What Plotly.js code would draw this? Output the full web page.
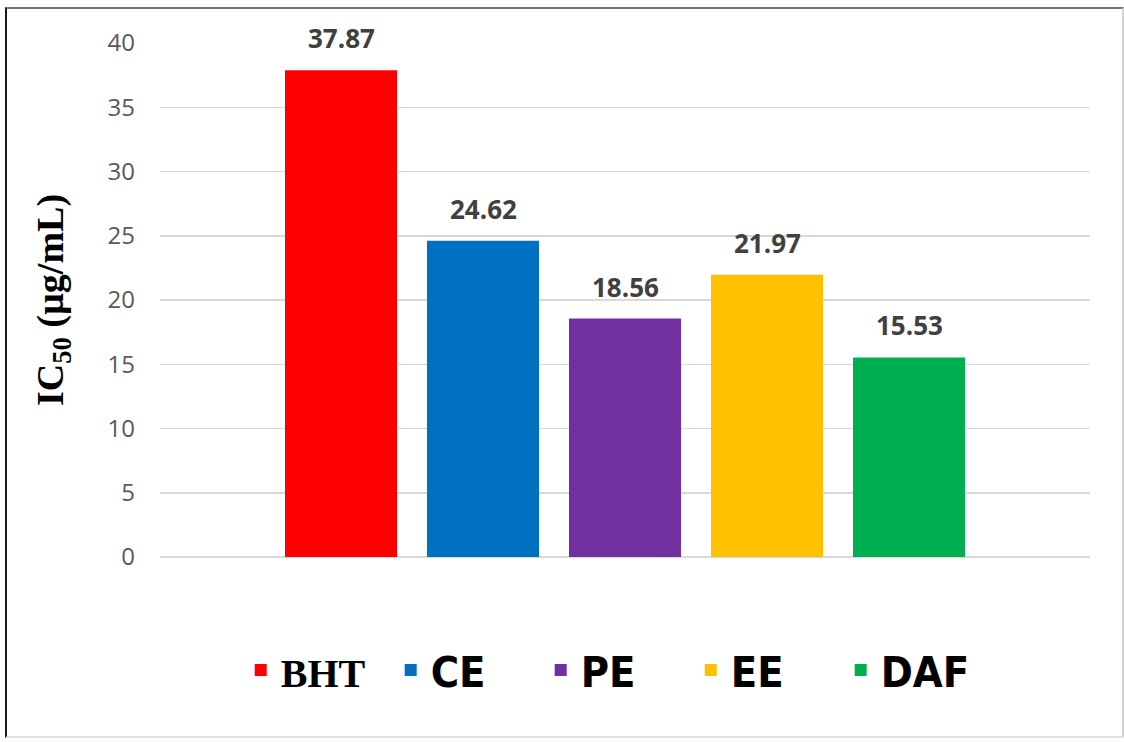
<!DOCTYPE html>
<html>
<head>
<meta charset="utf-8">
<script src="https://cdn.plot.ly/plotly-3.0.1.min.js"></script>
<style>
  html, body { margin: 0; padding: 0; background: #ffffff; }
  #chart { position: absolute; left: 0; top: 0; width: 1124px; height: 742px; }
  #frame { position: absolute; left: 5px; top: 7px; width: 1115px; height: 727px;
           border-top: 2px solid #767676; border-left: 2px solid #1a1a1a;
           border-right: 2px solid #d4d4d4; border-bottom: 2px solid #e2e2e2;
           pointer-events: none; }
</style>
</head>
<body>
<div id="chart"></div>
<div id="frame"></div>
<script>
// ---- data ----
const categories = ["BHT", "CE", "PE", "EE", "DAF"];
const values = [37.87, 24.62, 18.56, 21.97, 15.53];
const valueLabels = ["37.87", "24.62", "18.56", "21.97", "15.53"];
const colors = ["#FF0000", "#0070C0", "#7030A0", "#FFC000", "#00B050"];
const legendNames = [
  "<span style='font-family:\"Liberation Serif\", serif; font-size:40px'>BHT</span>",
  "CE", "PE", "EE", "DAF"
];
const yTicks = [0, 5, 10, 15, 20, 25, 30, 35, 40];

const traces = categories.map((c, i) => ({
  type: "bar",
  x: [c],
  y: [values[i]],
  name: legendNames[i],
  marker: { color: colors[i] },
  hoverinfo: "skip"
}));

const annotations = categories.map((c, i) => ({
  x: c, y: values[i], xref: "x", yref: "y",
  text: valueLabels[i], showarrow: false,
  yanchor: "bottom", yshift: 12,
  font: { family: "Open Sans, sans-serif", size: 26, color: "#404040", weight: "bold" }
}));

const layout = {
  width: 1124, height: 742,
  margin: { l: 160, r: 34, t: 43, b: 185 },
  paper_bgcolor: "#ffffff", plot_bgcolor: "#ffffff",
  barmode: "overlay",
  bargap: 0.211,
  showlegend: true,
  legend: {
    orientation: "h", x: 0.49, xanchor: "center", y: -0.22, yanchor: "middle",
    font: { family: "'Liberation Sans Narrow', 'Arial Narrow', 'DejaVu Sans Condensed', sans-serif", size: 43, color: "#000000", weight: "bold" },
    entrywidth: 105, entrywidthmode: "pixels",
    itemclick: false, itemdoubleclick: false
  },
  xaxis: {
    type: "category", categoryarray: categories, categoryorder: "array",
    range: [-1.2746, 5.2746], showticklabels: false, showgrid: false,
    zeroline: false, showline: false, ticks: "", fixedrange: true
  },
  yaxis: {
    range: [0, 40], tickvals: yTicks, ticktext: yTicks.map(String),
    showgrid: true, gridcolor: "#d9d9d9", gridwidth: 1.5,
    zeroline: true, zerolinecolor: "#d9d9d9", zerolinewidth: 1.5,
    showline: false, ticks: "", ticklabelstandoff: 24,
    tickfont: { family: "Open Sans, sans-serif", size: 24, color: "#595959" },
    title: { text: "IC<sub>50</sub> (µg/mL)", standoff: 32,
             font: { family: "'Liberation Serif', 'Times New Roman', serif", size: 38, color: "#000000", weight: "bold" } },
    fixedrange: true
  },
  annotations: annotations
};

Plotly.newPlot("chart", traces, layout, { displayModeBar: false, staticPlot: true });
</script>
</body>
</html>
